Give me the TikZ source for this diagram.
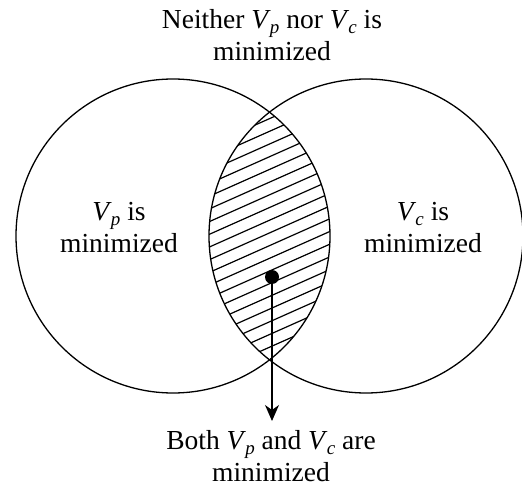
\documentclass[tikz,border=0pt]{standalone}
\usepackage{fontspec}
\setmainfont{Liberation Serif}
\usetikzlibrary{arrows.meta}
\newcommand{\Vsub}[1]{\textit{V}\kern-0.03em\raisebox{-5pt}{\fontsize{19}{19}\selectfont\textit{#1}}}
\tikzset{
  venn/.style={line width=1.3pt},
  hatchline/.style={line width=1.2pt},
  lbl/.style={align=center,font=\fontsize{27.5}{32}\selectfont,inner sep=0pt,anchor=base},
}
\begin{document}
\begin{tikzpicture}[x=1pt,y=-1pt]
\useasboundingbox (0,0) rectangle (522,486);
% hatching in the lens
\begin{scope}
  \clip (173,236) circle (157);
  \clip (366,236) circle (157);
  \foreach \k in {-16,...,16}{
    \draw[hatchline] (100,{283+\k*12.7}) -- ++({cos(24)*400},{-sin(24)*400});
  }
\end{scope}
\draw[venn] (173,236) circle (157);
\draw[venn] (366,236) circle (157);
\node[circle,fill=black,minimum size=14pt,inner sep=0pt] (dot) at (272,277) {};
\coordinate (tip) at (272,421);
\draw[line width=1.3pt,-{Stealth[length=16pt,width=14pt,inset=5pt]}] (dot.center) -- (tip);
\node[lbl] (top) at (272,61) {Neither \Vsub{p} nor \Vsub{c} is\\minimized};
\node[lbl] (left) at (119,253) {\Vsub{p} is\\minimized};
\node[lbl] (right) at (423,253) {\Vsub{c} is\\minimized};
\node[lbl] (bottom) at (271,481) {Both \Vsub{p} and \Vsub{c} are\\minimized};
\end{tikzpicture}
\end{document}
